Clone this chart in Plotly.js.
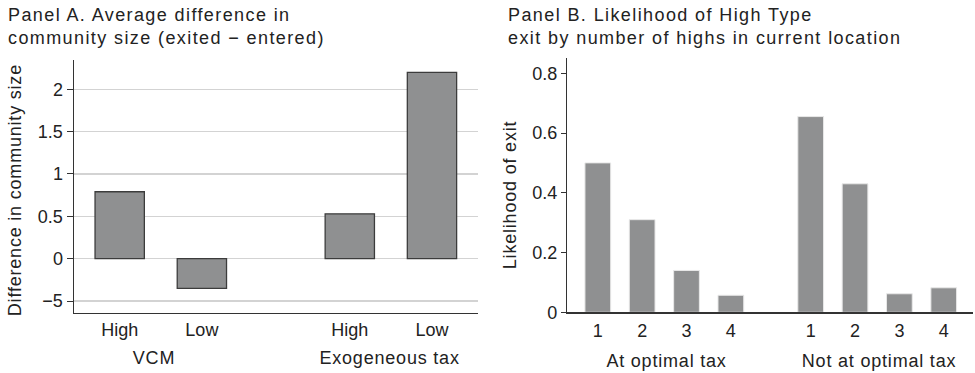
<!DOCTYPE html>
<html>
<head>
<meta charset="utf-8">
<script src="https://cdn.plot.ly/plotly-3.0.1.min.js"></script>
<style>
  html, body { margin: 0; padding: 0; background: #fff; }
  #chart { width: 975px; height: 373px; }
  /* loose tracking for the panel titles, a little for the other captions */
  #chart .annotation[data-index="0"] text,
  #chart .annotation[data-index="1"] text { letter-spacing: 1.4px !important; }
  #chart .annotation[data-index="2"] text,
  #chart .annotation[data-index="3"] text,
  #chart .annotation[data-index="4"] text,
  #chart .annotation[data-index="5"] text,
  #chart .annotation[data-index="6"] text,
  #chart .annotation[data-index="7"] text { letter-spacing: 0.8px !important; }
</style>
</head>
<body>
<div id="chart"></div>
<script>
// Panel A: average difference in community size (exited - entered)
const typeLabels = ['High', 'Low', 'High', 'Low'];
const typePositions = [1, 2, 3.8, 4.8];
const sizeDiff = [0.79, -0.35, 0.53, 2.2];
const panelAGroups = ['VCM', 'Exogeneous tax'];
const panelAGroupCenters = [1.42, 4.28];
const panelATickVals = [-0.5, 0, 0.5, 1, 1.5, 2];
const panelATickText = ['\u22125', '0', '0.5', '1', '1.5', '2'];

// Panel B: likelihood of high-type exit by number of highs in current location
const highsLabels = ['1', '2', '3', '4', '1', '2', '3', '4'];
const highsPositions = [1, 2, 3, 4, 5.8, 6.8, 7.8, 8.8];
const exitLikelihood = [0.50, 0.31, 0.14, 0.057, 0.655, 0.43, 0.062, 0.082];
const panelBGroups = ['At optimal tax', 'Not at optimal tax'];
const panelBGroupCenters = [2.55, 7.35];
const panelBTickVals = [0, 0.2, 0.4, 0.6, 0.8];
const panelBTickText = ['0', '0.2', '0.4', '0.6', '0.8'];
const panelBGridVals = [0.2, 0.4, 0.6];

const FONT = 'Liberation Sans, Arial, Helvetica, sans-serif';
const TEXT = '#222222';
const BAR = '#8f9091';
const AXIS = '#333333';
const GRID = '#d3d3d3';
const FS = 18;

const traces = [
  {
    type: 'bar',
    x: typePositions,
    y: sizeDiff,
    width: 0.6,
    marker: { color: BAR, line: { color: '#3c3c3c', width: 1.3 } },
    xaxis: 'x', yaxis: 'y',
    hoverinfo: 'y'
  },
  {
    type: 'bar',
    x: highsPositions,
    y: exitLikelihood,
    width: 0.58,
    marker: { color: BAR, line: { color: '#e8e8e8', width: 1 } },
    xaxis: 'x2', yaxis: 'y2',
    hoverinfo: 'y'
  }
];

const W = 975, H = 373;
const px = (v) => v / W;
const py = (v) => 1 - v / H;
const font = { family: FONT, size: FS, color: TEXT };

const annotations = [
  {
    text: 'Panel A. Average difference in<br>community size (exited \u2212 entered)',
    xref: 'paper', yref: 'paper', x: px(6), y: py(3),
    xanchor: 'left', yanchor: 'top', align: 'left', showarrow: false, font: font
  },
  {
    text: 'Panel B. Likelihood of High Type<br>exit by number of highs in current location',
    xref: 'paper', yref: 'paper', x: px(506), y: py(3),
    xanchor: 'left', yanchor: 'top', align: 'left', showarrow: false, font: font
  },
  {
    text: 'Difference in community size',
    xref: 'paper', yref: 'paper', x: px(15), y: py(190), textangle: -90,
    xanchor: 'center', yanchor: 'middle', showarrow: false, font: font
  },
  {
    text: 'Likelihood of exit',
    xref: 'paper', yref: 'paper', x: px(510), y: py(195), textangle: -90,
    xanchor: 'center', yanchor: 'middle', showarrow: false, font: font
  }
];
panelAGroups.forEach((g, i) => annotations.push({
  text: g, xref: 'x', yref: 'paper', x: panelAGroupCenters[i], y: py(358),
  xanchor: 'center', yanchor: 'middle', showarrow: false, font: font
}));
panelBGroups.forEach((g, i) => annotations.push({
  text: g, xref: 'x2', yref: 'paper', x: panelBGroupCenters[i], y: py(361),
  xanchor: 'center', yanchor: 'middle', showarrow: false, font: font
}));

const layout = {
  width: W, height: H,
  margin: { l: 0, r: 0, t: 0, b: 0 },
  paper_bgcolor: '#ffffff', plot_bgcolor: '#ffffff',
  showlegend: false,
  font: font,
  xaxis: {
    domain: [px(74), px(478)],
    range: [0.444, 5.36],
    anchor: 'y',
    tickvals: typePositions, ticktext: typeLabels,
    ticks: '', showgrid: false, zeroline: false,
    showline: true, linecolor: AXIS, linewidth: 1.5,
    tickfont: font
  },
  yaxis: {
    domain: [py(312.7), py(60)],
    range: [-0.638, 2.346],
    anchor: 'x',
    tickvals: panelATickVals, ticktext: panelATickText,
    ticks: 'outside', ticklen: 6, tickcolor: AXIS, tickwidth: 1,
    showgrid: true, gridcolor: GRID, gridwidth: 1.2, zeroline: false,
    showline: true, linecolor: AXIS, linewidth: 1.5,
    tickfont: font
  },
  xaxis2: {
    domain: [px(567.3), px(973)],
    range: [0.312, 9.46],
    anchor: 'y2',
    tickvals: highsPositions, ticktext: highsLabels,
    ticks: '', showgrid: false, zeroline: false,
    showline: true, linecolor: AXIS, linewidth: 1.5,
    ticklabelstandoff: 2,
    tickfont: font
  },
  yaxis2: {
    domain: [py(312.3), py(58)],
    range: [0, 0.851],
    anchor: 'x2',
    tickvals: panelBTickVals, ticktext: panelBTickText,
    ticks: 'outside', ticklen: 5, tickcolor: AXIS, tickwidth: 1,
    showgrid: false, zeroline: false,
    showline: true, linecolor: AXIS, linewidth: 1.5,
    tickfont: font
  },
  // gridlines for panel B (none at the top tick)
  yaxis3: {
    overlaying: 'y2', anchor: 'x2',
    range: [0, 0.851],
    tickvals: panelBGridVals,
    showticklabels: false, ticks: '',
    showgrid: true, gridcolor: GRID, gridwidth: 1.2, zeroline: false,
    showline: false
  },
  annotations: annotations,
  bargap: 0
};

Plotly.newPlot('chart', traces, layout, { displayModeBar: false, staticPlot: true });
</script>
</body>
</html>
